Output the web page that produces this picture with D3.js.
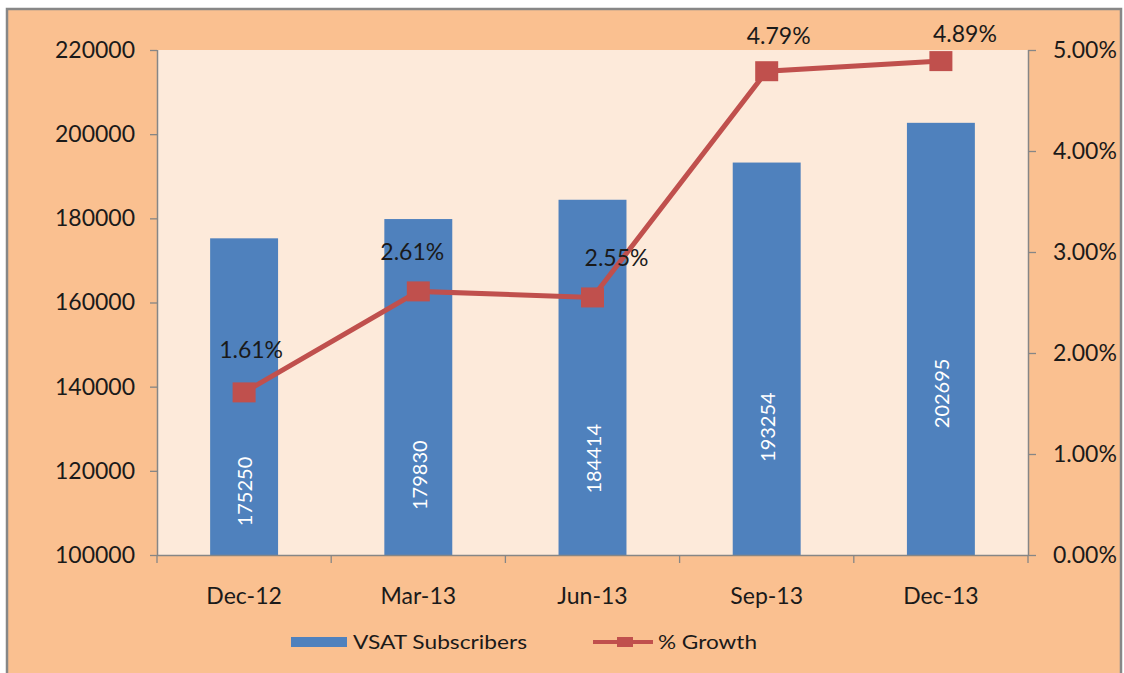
<!DOCTYPE html>
<html><head><meta charset="utf-8">
<script src="https://cdn.jsdelivr.net/npm/d3@7"></script>
<style>body{margin:0;background:#fff}svg{display:block}text{font-family:Lato,"Open Sans",sans-serif;fill:#1a1a1a}</style>
</head><body>
<svg id="c" width="1124" height="673"></svg>
<script>
const categories = ["Dec-12","Mar-13","Jun-13","Sep-13","Dec-13"];
const subscribers = [175250,179830,184414,193254,202695];
const growth = [1.61,2.61,2.55,4.79,4.89];
const leftTicks = [100000,120000,140000,160000,180000,200000,220000];
const rightTicks = [0,1,2,3,4,5];
// layout-only nudges for the growth labels (dx, dy from marker)
const labelDx = [7,-6,24,12,24];
const labelDy = [-34,-31,-31,-27,-19];

const svg = d3.select("#c");
const L=157,R=1028,T=50,B=555;
svg.append("rect").attr("x",7).attr("y",9).attr("width",1114).attr("height",680)
  .attr("fill","#FAC090").attr("stroke","#878787").attr("stroke-width",2.5);
svg.append("rect").attr("x",L).attr("y",T).attr("width",R-L).attr("height",B-T).attr("fill","#FDEADA");

const x = d3.scaleBand().domain(categories).range([L,R]).paddingInner(0.61).paddingOuter(0.305);
const xc = d3.scaleBand().domain(categories).range([L,R]);
const y = d3.scaleLinear().domain([100000,220000]).range([B,T]);
const y2 = d3.scaleLinear().domain([0,5]).range([B,T]);

// bars
svg.selectAll(".bar").data(subscribers).enter().append("rect")
  .attr("x",(d,i)=>x(categories[i])).attr("width",x.bandwidth())
  .attr("y",d=>y(d)).attr("height",d=>B-y(d)).attr("fill","#4F81BD");

// bar labels
svg.selectAll(".bl").data(subscribers).enter().append("text")
  .attr("transform",(d,i)=>`translate(${xc(categories[i])+xc.bandwidth()/2+1},${y(d)*0.85+289}) rotate(-90)`)
  .attr("text-anchor","middle").attr("dy","0.36em").style("font-size","20px").style("fill","#fff")
  .text(d=>d);

// axes
const axisColor="#868686";
const gl = svg.append("g").attr("transform",`translate(${L},0)`)
  .call(d3.axisLeft(y).tickValues(leftTicks).tickSize(7).tickPadding(15).tickFormat(d3.format("d")));
const gr = svg.append("g").attr("transform",`translate(${R},0)`)
  .call(d3.axisRight(y2).tickValues(rightTicks).tickSize(8).tickPadding(17).tickFormat(d=>d3.format(".2f")(d)+"%"));
const gb = svg.append("g").attr("transform",`translate(0,${B})`)
  .call(d3.axisBottom(xc).tickSize(0).tickPadding(33));
// bottom ticks at category boundaries
svg.selectAll(".bt").data(d3.range(categories.length+1)).enter().append("line")
  .attr("x1",i=>L+i*xc.step()).attr("x2",i=>L+i*xc.step()).attr("y1",B).attr("y2",B+8)
  .attr("stroke",axisColor).attr("stroke-width",1.3);
[gl,gr,gb].forEach(g=>{
  g.select(".domain").attr("stroke",axisColor).attr("stroke-width",1.5);
  g.selectAll(".tick line").attr("stroke",axisColor).attr("stroke-width",1.3);
  g.selectAll("text").style("font-size","23px").style("font-family","Lato").attr("fill","#1a1a1a");
});
gb.select(".domain").attr("d",`M${L},0.5H${R}`);
gl.select(".domain").attr("d",`M0.5,${T}V${B}`);
gr.select(".domain").attr("d",`M0.5,${T}V${B}`);

// line
const cx = (i)=>xc(categories[i])+xc.bandwidth()/2;
const line = d3.line().x((d,i)=>cx(i)).y(d=>y2(d));
svg.append("path").datum(growth).attr("d",line).attr("fill","none")
  .attr("stroke","#C0504D").attr("stroke-width",5);
svg.selectAll(".mk").data(growth).enter().append("rect")
  .attr("x",(d,i)=>cx(i)-11.5).attr("y",d=>y2(d)-10).attr("width",23).attr("height",20)
  .attr("fill","#C0504D");
svg.selectAll(".gl").data(growth).enter().append("text")
  .attr("x",(d,i)=>cx(i)+labelDx[i]).attr("y",(d,i)=>y2(d)+labelDy[i])
  .attr("text-anchor","middle").style("font-size","23px")
  .text(d=>d3.format(".2f")(d)+"%");

// legend
const lg = svg.append("g");
lg.append("rect").attr("x",291).attr("y",637).attr("width",56).attr("height",10).attr("fill","#4F81BD");
lg.append("text").attr("x",353).attr("y",649).style("font-size","20px")
  .attr("textLength",174).attr("lengthAdjust","spacingAndGlyphs").text("VSAT Subscribers");
lg.append("line").attr("x1",593).attr("x2",653).attr("y1",642).attr("y2",642).attr("stroke","#C0504D").attr("stroke-width",4);
lg.append("rect").attr("x",617).attr("y",637).attr("width",16).attr("height",10).attr("fill","#C0504D");
lg.append("text").attr("x",658).attr("y",649).style("font-size","20px")
  .attr("textLength",99).attr("lengthAdjust","spacingAndGlyphs").text("% Growth");
</script>
</body></html>
